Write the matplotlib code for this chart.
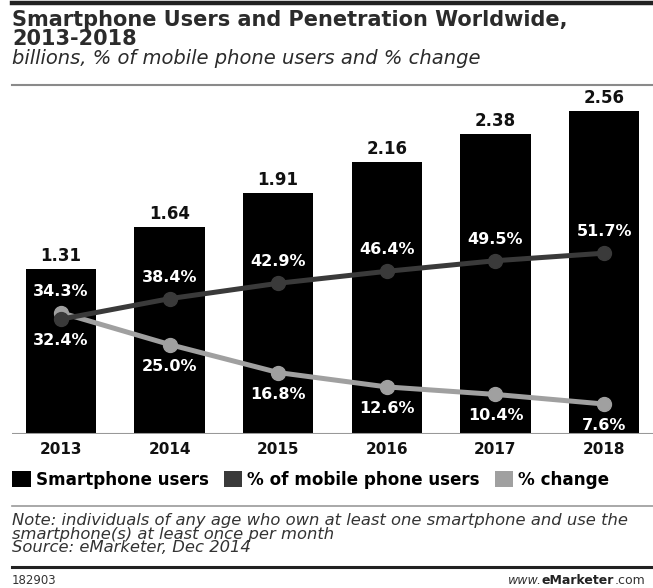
import matplotlib.pyplot as plt
from matplotlib.patches import Patch
from matplotlib.lines import Line2D

years = ['2013', '2014', '2015', '2016', '2017', '2018']
users = [1.31, 1.64, 1.91, 2.16, 2.38, 2.56]  # billions
pct_mobile = [32.4, 38.4, 42.9, 46.4, 49.5, 51.7]
pct_change = [34.3, 25.0, 16.8, 12.6, 10.4, 7.6]
series_names = ['Smartphone users', '% of mobile phone users', '% change']

W, H = 653, 588
fig = plt.figure(figsize=(W / 100, H / 100), dpi=100)
fig.patch.set_facecolor('white')


def fx(px):
    return px / W


def fy(py):
    return 1 - py / H


# axes: x from 12 to 653 px, baseline at 434 px, top at 95 px
ax = fig.add_axes([fx(12), fy(434), fx(641), (434 - 95) / H])
ax2 = ax.twinx()

x = range(len(years))
ax.bar(x, users, width=0.65, color='black', zorder=2)
for i, v in enumerate(users):
    ax.annotate(f'{v:.2f}', (i, v), xytext=(0, 3), textcoords='offset points',
                ha='center', va='bottom', fontsize=12, fontweight='bold', color='#111111')

ax.set_xlim(-0.45, 5.45)
ax.set_ylim(0, 339 / 126)
ax.axhline(0, color='#999999', lw=1.5, zorder=3)
ax.set_xticks(list(x))
ax.set_xticklabels(years, fontsize=11, fontweight='bold', color='#111111')
ax.tick_params(axis='x', length=0, pad=6)
ax.set_yticks([])
ax2.set_yticks([])
for a in (ax, ax2):
    for s in a.spines.values():
        s.set_visible(False)
ax.patch.set_alpha(0)

# percent scale: 3.42 px per point, zero sits 4 px above the baseline
ax2.set_ylim(-4 / 3.42, 335 / 3.42)
ax2.plot(x, pct_mobile, color='#3a3a3a', lw=3.6, marker='o', ms=10, zorder=4)
ax2.plot(x, pct_change, color='#a0a0a0', lw=3.6, marker='o', ms=10, zorder=3)

for i in x:
    up_m = pct_mobile[i] >= pct_change[i]
    ax2.annotate(f'{pct_mobile[i]:.1f}%', (i, pct_mobile[i]),
                 xytext=(0, 15.5 if up_m else -15.5), textcoords='offset points',
                 ha='center', va='center', fontsize=11.5, fontweight='bold', color='white')
    ax2.annotate(f'{pct_change[i]:.1f}%', (i, pct_change[i]),
                 xytext=(0, -15.5 if up_m else 15.5), textcoords='offset points',
                 ha='center', va='center', fontsize=11.5, fontweight='bold', color='white')

# header
fig.add_artist(Line2D([fx(12), 1], [fy(2.5), fy(2.5)], color='#222222', lw=3.2))
fig.text(fx(12), fy(20), 'Smartphone Users and Penetration Worldwide,', fontsize=15,
         fontweight='bold', color='#2b2b2b', va='center')
fig.text(fx(12), fy(39), '2013-2018', fontsize=15, fontweight='bold', color='#2b2b2b', va='center')
fig.text(fx(12), fy(59), 'billions, % of mobile phone users and % change', fontsize=14,
         style='italic', color='#2b2b2b', va='center')
fig.add_artist(Line2D([fx(12), 1], [fy(85), fy(85)], color='#8a8a8a', lw=1.5))

# legend
handles = [Patch(facecolor=c) for c in ('black', '#3a3a3a', '#a0a0a0')]
fig.legend(handles, series_names, loc='center left', bbox_to_anchor=(fx(-3), fy(480)),
           ncol=3, frameon=False, handlelength=1.1, handleheight=1.1, handletextpad=0.3,
           columnspacing=0.9, prop={'weight': 'bold', 'size': 12.1})

# notes and footer
fig.add_artist(Line2D([fx(12), 1], [fy(506), fy(506)], color='#999999', lw=1.2))
notes = ['Note: individuals of any age who own at least one smartphone and use the',
         'smartphone(s) at least once per month',
         'Source: eMarketer, Dec 2014']
for j, line in enumerate(notes):
    fig.text(fx(12), fy(520 + j * 14), line, fontsize=11.8, style='italic',
             color='#333333', va='center')
fig.add_artist(Line2D([fx(12), 1], [fy(567), fy(567)], color='#222222', lw=2.2))
fig.text(fx(12), fy(580), '182903', fontsize=8.5, color='#333333', va='center')

r = fig.canvas.get_renderer()
t3 = fig.text(fx(645), fy(580), '.com', fontsize=9, color='#333333', va='center', ha='right')
w3 = t3.get_window_extent(r).width
t2 = fig.text(fx(645 - w3), fy(580), 'eMarketer', fontsize=9, fontweight='bold',
              color='#222222', va='center', ha='right')
w2 = t2.get_window_extent(r).width
fig.text(fx(645 - w3 - w2), fy(580), 'www.', fontsize=9, style='italic', color='#333333',
         va='center', ha='right')

fig.savefig('out.png', dpi=100)
